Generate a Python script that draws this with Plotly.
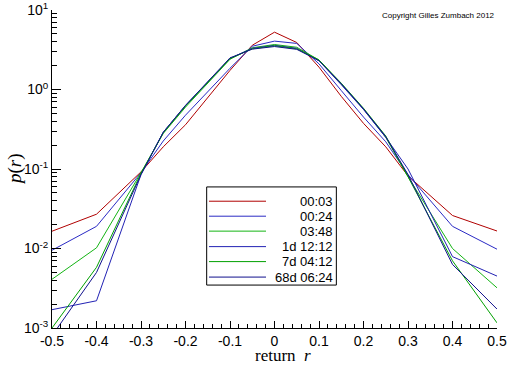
import plotly.graph_objects as go

# ---- data ----
r_values = [-0.5, -0.4, -0.3, -0.25, -0.2, -0.15, -0.1, -0.05, 0.0,
            0.05, 0.1, 0.15, 0.2, 0.25, 0.3, 0.4, 0.5]

p_0003 = [0.0165, 0.027, 0.092, 0.19, 0.36, 0.79, 1.74, 3.6, 5.26,
          3.9, 1.91, 0.82, 0.375, 0.19, 0.082, 0.026, 0.0166]
p_0024 = [0.0095, 0.019, 0.09, 0.225, 0.475, 0.93, 1.85, 3.5, 4.06,
          3.8, 2.1, 0.97, 0.45, 0.22, 0.085, 0.019, 0.0098]
p_0348 = [0.0041, 0.0102, 0.09, 0.28, 0.6, 1.2, 2.4, 3.35, 3.68,
          3.4, 2.35, 1.17, 0.57, 0.25, 0.08, 0.0100, 0.0032]
p_1d1212 = [0.0017, 0.0022, 0.085, 0.29, 0.63, 1.25, 2.45, 3.3, 3.6,
            3.3, 2.3, 1.15, 0.56, 0.25, 0.1, 0.0079, 0.0045]
p_7d0412 = [0.001, 0.0058, 0.088, 0.285, 0.62, 1.23, 2.45, 3.25, 3.55,
            3.25, 2.35, 1.2, 0.58, 0.26, 0.08, 0.0070, 0.00116]
p_68d0624 = [0.0008, 0.0050, 0.085, 0.29, 0.63, 1.26, 2.5, 3.22, 3.47,
             3.2, 2.3, 1.18, 0.57, 0.255, 0.085, 0.0063, 0.00173]

series_names = ["00:03", "00:24", "03:48", "1d 12:12", "7d 04:12", "68d 06:24"]
series_values = [p_0003, p_0024, p_0348, p_1d1212, p_7d0412, p_68d0624]
series_colors = ["#b00000", "#2a2ac4", "#14b414", "#2222b4", "#00a000", "#10108c"]

x_ticks = [-0.5, -0.4, -0.3, -0.2, -0.1, 0, 0.1, 0.2, 0.3, 0.4, 0.5]
x_ticktext = ["-0.5", "-0.4", "-0.3", "-0.2", "-0.1", "0", "0.1", "0.2", "0.3", "0.4", "0.5"]
y_ticks = [1e-3, 1e-2, 1e-1, 1e0, 1e1]
y_ticktext = ["10<sup>-3</sup>", "10<sup>-2</sup>", "10<sup>-1</sup>", "10<sup>0</sup>", "10<sup>1</sup>"]
y_minor = [m * d for d in [1e-3, 1e-2, 1e-1, 1e0] for m in range(2, 10)]

fig = go.Figure()
for name, vals, col in zip(series_names, series_values, series_colors):
    fig.add_trace(go.Scatter(x=r_values, y=vals, mode="lines", name=name,
                             line=dict(color=col, width=1), showlegend=False,
                             hoverinfo="skip"))

# ---- manual legend (right-aligned labels like the original) ----
lx0, lx1 = 0.3476, 0.639
ly_top, ly_bot = 0.4436, 0.135
fig.add_shape(type="rect", xref="paper", yref="paper", x0=lx0, x1=lx1,
              y0=ly_bot, y1=ly_top, line=dict(color="black", width=1),
              fillcolor="white", layer="above")
row_y = [0.3987, 0.3516, 0.3046, 0.2559, 0.2088, 0.1601]
for name, col, yy in zip(series_names, series_colors, row_y):
    fig.add_shape(type="line", xref="paper", yref="paper", x0=0.3528, x1=0.4809,
                  y0=yy, y1=yy, line=dict(color=col, width=1), layer="above")
    fig.add_annotation(xref="paper", yref="paper", x=0.636, y=yy, text=name,
                       showarrow=False, xanchor="right", yanchor="middle",
                       font=dict(family="Liberation Sans, Arial", size=13, color="black"))

fig.add_annotation(xref="paper", yref="paper", x=1.0, y=0.982,
                   text="Copyright Gilles Zumbach 2012", showarrow=False,
                   xanchor="right", yanchor="middle",
                   font=dict(family="Liberation Sans, Arial", size=8, color="black"))

# axis titles
fig.add_annotation(xref="paper", yref="paper", x=0.52, y=-0.119,
                   text="return  <i>r</i>", showarrow=False,
                   xanchor="center", yanchor="bottom", borderpad=0,
                   font=dict(family="Liberation Serif, Times New Roman", size=17, color="black"))
fig.add_annotation(xref="paper", yref="paper", x=-0.083, y=0.5,
                   text="<i>p</i>(<i>r</i>)", showarrow=False, textangle=-90,
                   xanchor="center", yanchor="middle",
                   font=dict(family="Liberation Serif, Times New Roman", size=19, color="black"))

fig.update_layout(
    width=512, height=366,
    margin=dict(l=52, r=15, t=10, b=38),
    paper_bgcolor="white", plot_bgcolor="white",
    font=dict(family="Liberation Sans, Arial", size=14, color="black"),
    showlegend=False, hovermode=False,
)
fig.update_xaxes(
    range=[-0.5, 0.5], tickvals=x_ticks, ticktext=x_ticktext, automargin=False,
    ticks="inside", ticklen=7, tickcolor="black", tickwidth=1,
    showline=True, linecolor="black", linewidth=1, mirror=False,
    showgrid=False, zeroline=False,
    minor=dict(ticks="inside", ticklen=4, dtick=0.02, tickcolor="black", showgrid=False),
)
fig.update_yaxes(
    type="log", range=[-3, 1], tickvals=y_ticks, ticktext=y_ticktext, automargin=False,
    ticks="inside", ticklen=9, tickcolor="black", tickwidth=1,
    showline=True, linecolor="black", linewidth=1, mirror=False,
    showgrid=False, zeroline=False,
    minor=dict(ticks="inside", ticklen=5, tickvals=y_minor, tickcolor="black", showgrid=False),
)

fig.write_html("out.html", config={"displayModeBar": False},
               post_script="document.body.style.margin='0';document.body.style.overflow='hidden';")
